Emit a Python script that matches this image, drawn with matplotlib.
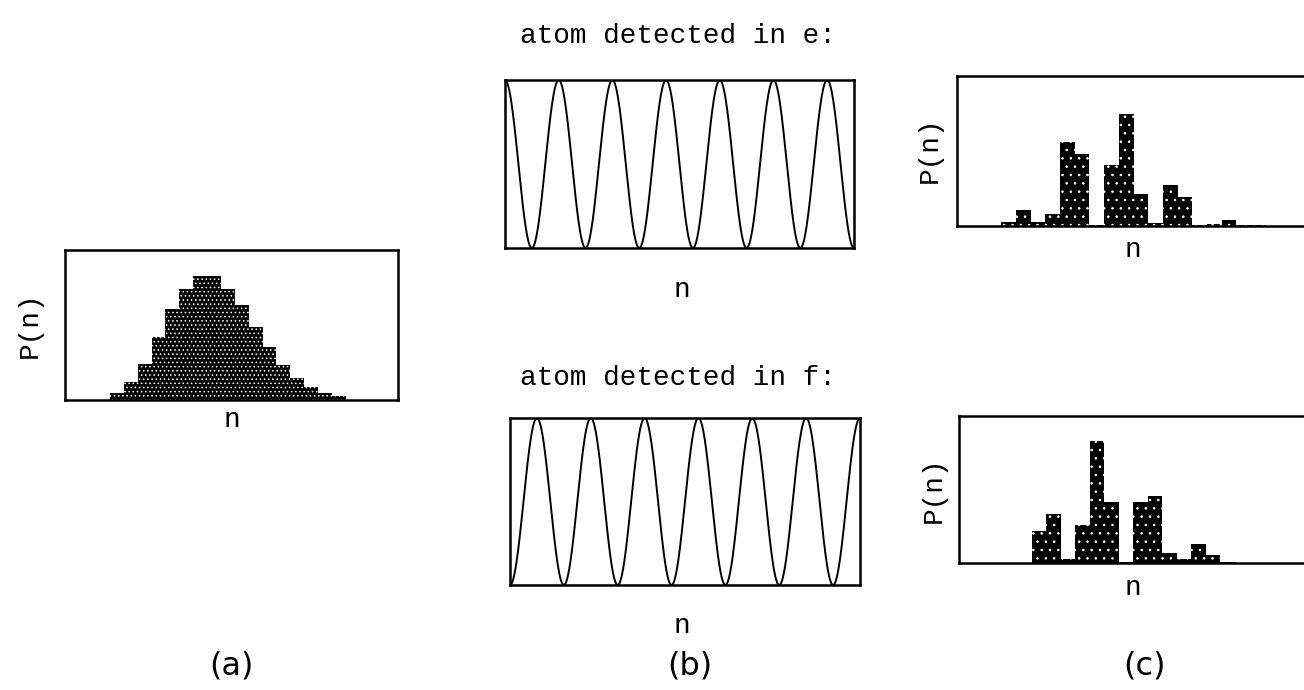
import numpy as np
import matplotlib
matplotlib.use("Agg")
import matplotlib.pyplot as plt

# %%
# data (arbitrary units, box height ~ 445)
a_n = list(range(3, 20))
a_P = [21, 52, 106, 186, 270, 330, 369, 369, 328, 282, 217, 156, 105, 65, 39, 20, 13]

ce_n = list(range(3, 21))
ce_P = [12, 48, 12, 37, 252, 217, 3, 184, 335, 95, 8, 122, 86, 4, 5, 17, 4, 2]

cf_n = list(range(5, 19))
cf_P = [95, 147, 12, 115, 365, 184, 3, 182, 201, 31, 13, 56, 25, 2]

# Rabi oscillation shown in (b): number of fringes across the box
n_cycles = 6.5
titles = ["atom detected in e:", "atom detected in f:"]
panel_tags = ["(a)", "(b)", "(c)"]

W, H = 1304, 690
mono = "Liberation Mono"

fig = plt.figure(figsize=(W / 100, H / 100), dpi=100)


def box(x0, y0, x1, y1):
    # pixel box (top-left origin) -> axes
    ax = fig.add_axes([x0 / W, 1 - y1 / H, (x1 - x0) / W, (y1 - y0) / H])
    ax.set_xticks([])
    ax.set_yticks([])
    for s in ax.spines.values():
        s.set_linewidth(1.8)
    return ax


def label(x, y, s, **kw):
    kw.setdefault("family", mono)
    kw.setdefault("fontsize", 20)
    fig.text(x / W, 1 - y / H, s, ha="center", va="center", **kw)


def hist(ax, n, p, hatch):
    ax.bar(n, p, width=1.0, align="edge", facecolor="black",
           edgecolor="white", linewidth=0, hatch=hatch)


plt.rcParams["hatch.linewidth"] = 0.6

# %%
# (a) initial photon number distribution
ax_a = box(65, 250, 398, 400)
hist(ax_a, a_n, a_P, "....")
ax_a.set_xlim(-0.24, 23.76)
ax_a.set_ylim(0, 445)
label(30, 325, "P(n)", rotation=90)
label(232, 420, "n")

# %%
# (b) conditional probabilities
x = np.linspace(0, n_cycles, 1200)
curves = [np.cos(np.pi * x) ** 2, np.sin(np.pi * x) ** 2]
boxes_b = [(505, 80, 854, 248), (510, 418, 860, 585)]
title_y = [36, 378]
n_y = [290, 626]
for curve, bb, ty, ny, t in zip(curves, boxes_b, title_y, n_y, titles):
    ax = box(*bb)
    ax.plot(x, curve, color="black", lw=1.4)
    ax.set_xlim(0, n_cycles)
    ax.set_ylim(0, 1)
    label(678, ty, t)
    label(682, ny, "n")

# %%
# (c) distributions after detection
ax_ce = box(957, 76, 1310, 226)
hist(ax_ce, ce_n, ce_P, "..")
ax_ce.set_xlim(0, 24)
ax_ce.set_ylim(0, 449)
label(930, 150, "P(n)", rotation=90)
label(1133, 250, "n")

ax_cf = box(959, 416, 1307, 563)
hist(ax_cf, cf_n, cf_P, "..")
ax_cf.set_xlim(0, 24)
ax_cf.set_ylim(0, 440)
label(934, 490, "P(n)", rotation=90)
label(1133, 588, "n")

for xx, tag in zip([231, 690, 1145], panel_tags):
    label(xx, 666, tag, family="DejaVu Sans", fontsize=23)

plt.savefig("out.png", dpi=100)
